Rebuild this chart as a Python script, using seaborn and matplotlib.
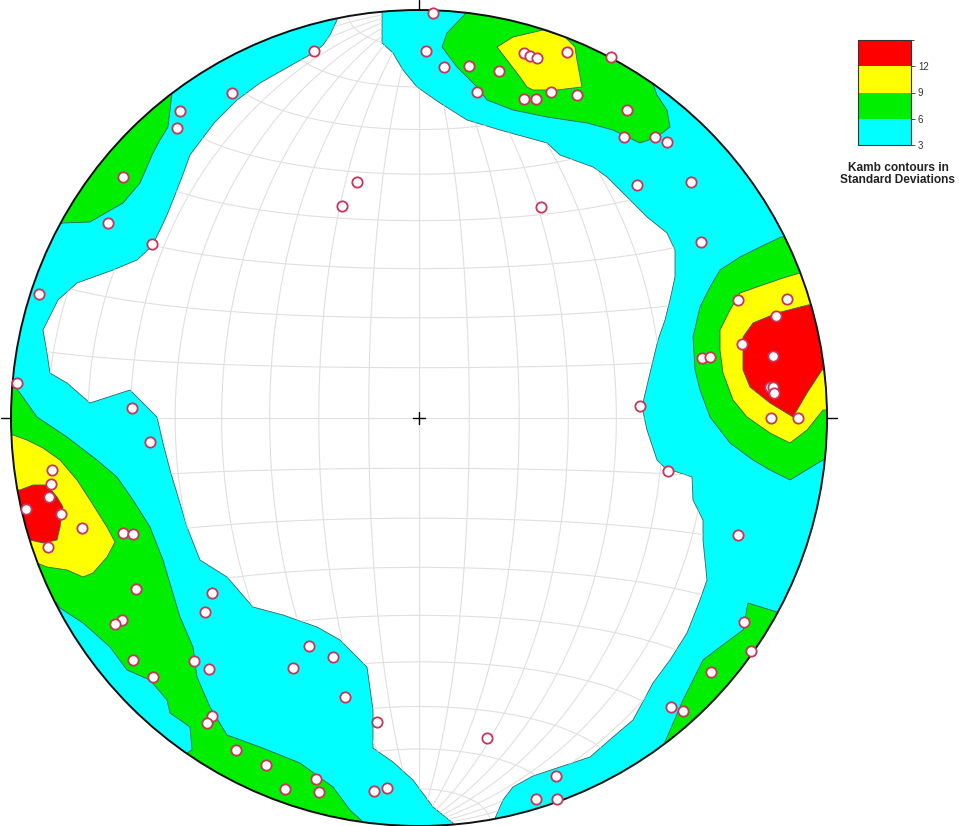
import numpy as np
import matplotlib
matplotlib.use("Agg")
import matplotlib.pyplot as plt
from matplotlib.patches import Circle, Polygon
from matplotlib.colors import ListedColormap, BoundaryNorm
from matplotlib.cm import ScalarMappable
import seaborn as sns

# ---------------------------
# Data (net units: origin at net centre, y up, net radius = 408)
# ---------------------------
pole_x = [14, -105, 7, 25, 50, 58, 80, 105, 111, 118, 148, 192, 132, 105, 117, 158,
          208, 205, 236, 248, 218, 272, 282, -187, -239, -242, -62, -77, 122, -296,
          -311, -267, -380, -402, -287, -269, -367, -368, -370, -393, -358, -337, -371,
          -296, -286, -283, -207, -214, -297, -304, -286, -225, -210, -266, -110, -86,
          -126, -74, -42, -207, -212, -183, -153, -134, -103, -100, -45, -32, 68, 137,
          117, 138, 319, 325, 332, 292, 252, 264, 319, 368, 357, 323, 283, 291, 354,
          351, 354, 355, 352, 379, 221, 249]
pole_y = [405, 367, 367, 351, 352, 326, 347, 365, 362, 360, 366, 361, 326, 319, 319, 323,
          308, 281, 281, 276, 233, 236, 176, 325, 307, 290, 236, 212, 211, 241,
          195, 174, 124, 35, 10, -24, -52, -66, -79, -91, -96, -110, -129,
          -115, -116, -171, -175, -194, -202, -206, -242, -243, -251, -259, -228, -239,
          -250, -279, -304, -298, -305, -332, -347, -371, -361, -374, -373, -370, -320, -358,
          -381, -381, -117, -204, -233, -254, -289, -293, 118, 119, 102, 74, 60, 61, 62,
          31, 31, 25, 0, 0, 12, -53]

levels = [3, 6, 9, 12]
level_colors = ["#00ffff", "#00ee00", "#ffff00", "#ff0000"]

# Kamb contour outlines
below_3 = [(-37, 428), (-37, 406), (-37, 375), (-26, 365), (-16, 348), (-2, 331), (21, 315),
           (48, 298), (81, 288), (128, 275), (141, 263), (174, 251), (188, 241), (208, 221),
           (228, 201), (248, 185), (256, 168), (256, 141), (251, 118), (246, 98), (239, 78),
           (231, 45), (223, 11), (228, -12), (238, -42), (246, -50), (273, -59), (274, -82),
           (284, -102), (284, -122), (288, -162), (281, -182), (268, -215), (251, -242),
           (234, -265), (214, -302), (194, -319), (171, -339), (141, -349), (114, -358),
           (94, -369), (84, -382), (74, -405), (74, -422), (34, -422), (34, -405), (14, -389),
           (-6, -362), (-26, -344), (-46, -330), (-46, -292), (-52, -249), (-79, -222),
           (-102, -209), (-136, -197), (-166, -189), (-192, -159), (-219, -142), (-232, -109),
           (-249, -52), (-256, -25), (-262, 1), (-289, 28), (-329, 15), (-352, 35), (-369, 45),
           (-372, 65), (-376, 88), (-361, 118), (-342, 135), (-306, 148), (-282, 158),
           (-267, 172), (-259, 188), (-252, 203), (-244, 223), (-237, 241), (-229, 263),
           (-214, 283), (-204, 296), (-182, 318), (-159, 335), (-122, 356), (-104, 366),
           (-96, 373), (-89, 383), (-82, 398), (-82, 428)]

green_nw = [(-247, 325), (-251, 291), (-259, 278), (-266, 265), (-279, 235), (-296, 215),
            (-329, 196), (-356, 195), (-379, 188), (-269, 358), (-239, 348)]
green_n = [(48, 406), (28, 385), (23, 371), (38, 351), (58, 331), (68, 318), (94, 308),
           (128, 301), (168, 295), (194, 288), (221, 275), (238, 281), (251, 291), (248, 308),
           (238, 323), (234, 334), (281, 368), (51, 438)]
green_e = [(362, 181), (341, 171), (321, 161), (301, 148), (291, 131), (281, 111), (274, 81),
           (276, 48), (281, 28), (291, 1), (311, -25), (334, -42), (351, -52), (371, -62),
           (404, -42), (441, -42), (441, 188)]
green_w = [(-414, 38), (-404, 31), (-399, 25), (-382, 1), (-352, -19), (-322, -42), (-302, -59),
           (-286, -82), (-269, -109), (-256, -142), (-239, -199), (-226, -229), (-222, -259),
           (-209, -289), (-192, -317), (-159, -329), (-119, -345), (-86, -369), (-69, -392),
           (-56, -404), (-49, -427), (-139, -432), (-232, -335), (-227, -332), (-229, -309),
           (-249, -295), (-252, -282), (-269, -262), (-292, -252), (-309, -229), (-336, -205),
           (-359, -190), (-362, -185), (-419, -142), (-419, 38)]
green_se = [(329, -185), (358, -194), (381, -182), (281, -362), (246, -324), (264, -282),
            (274, -262), (284, -242), (301, -229), (324, -212)]
yellow_n = [(78, 371), (94, 381), (124, 388), (146, 381), (156, 371), (158, 358), (163, 331),
            (138, 328), (114, 328), (108, 331), (101, 341), (88, 358)]
yellow_e = [(381, 145), (364, 140), (338, 131), (321, 125), (311, 108), (301, 88), (301, 68),
            (304, 45), (314, 18), (328, 1), (351, -15), (371, -25), (388, -12), (404, 8),
            (441, 8), (441, 145)]
yellow_w = [(-419, -12), (-406, -17), (-392, -22), (-376, -30), (-359, -42), (-342, -62),
            (-329, -82), (-312, -109), (-304, -124), (-312, -139), (-326, -155), (-336, -159),
            (-352, -152), (-372, -149), (-382, -145), (-419, -152)]
red_e = [(389, 113), (358, 105), (334, 95), (324, 81), (324, 48), (331, 31), (351, 15),
         (374, 1), (388, 25), (403, 48), (441, 48), (441, 118)]
red_w = [(-419, -72), (-399, -72), (-386, -67), (-372, -67), (-362, -79), (-356, -89),
         (-359, -109), (-362, -122), (-376, -125), (-389, -122), (-419, -127)]

# ---------------------------
# Figure
# ---------------------------
sns.set_style("white")
plt.rcParams["font.family"] = ["Liberation Sans", "DejaVu Sans"]

R = 408
fig = plt.figure(figsize=(9.59, 8.26), dpi=100)
ax = fig.add_axes([0, 0, 1, 1])
ax.set_xlim(-419, 540)
ax.set_ylim(-408, 418)
ax.set_aspect("equal")
ax.axis("off")

edge = "#3c6060"
net = Circle((0, 0), R, facecolor=level_colors[0], edgecolor="none", zorder=1)
ax.add_patch(net)

hole = Polygon(below_3, closed=True, facecolor="white", edgecolor=edge, lw=0.6, zorder=2)
ax.add_patch(hole)
hole.set_clip_path(net)

# ---------------------------
# Equal-area (Schmidt) grid, only visible below 3 sigma
# ---------------------------
t = np.radians(np.linspace(-90, 90, 181))


def schmidt(lon, lat):
    k = np.sqrt(2 / (1 + np.cos(lat) * np.cos(lon)))
    return R / np.sqrt(2) * k * np.cos(lat) * np.sin(lon), R / np.sqrt(2) * k * np.sin(lat)


for d in range(-80, 90, 10):
    a = np.radians(d)
    for gx, gy in (schmidt(a, t), schmidt(t, a)):
        line, = ax.plot(gx, gy, color="#e0e0e0", lw=0.8, zorder=3)
        line.set_clip_path(hole)

# ---------------------------
# Contour fills
# ---------------------------
fills = [(green_nw, 1), (green_n, 1), (green_e, 1), (green_w, 1), (green_se, 1),
         (yellow_n, 2), (yellow_e, 2), (yellow_w, 2), (red_e, 3), (red_w, 3)]
for poly, lev in fills:
    p = Polygon(poly, closed=True, facecolor=level_colors[lev], edgecolor=edge,
                lw=0.6, zorder=3 + lev)
    ax.add_patch(p)
    p.set_clip_path(net)

ax.add_patch(Circle((0, 0), R, fill=False, edgecolor="#111111", lw=1.4, zorder=7))

# poles
sns.scatterplot(x=pole_x, y=pole_y, ax=ax, s=55, color="white", edgecolor="#c8345a",
                linewidth=1.3, zorder=8, legend=False)

# centre cross and primitive ticks
ax.plot([-6, 6], [0, 0], color="black", lw=1, zorder=9)
ax.plot([0, 0], [-6, 6], color="black", lw=1, zorder=9)
for dx, dy in [(0, 1), (0, -1), (1, 0), (-1, 0)]:
    ax.plot([dx * R, dx * (R + 10)], [dy * R, dy * (R + 10)], color="black", lw=1,
            zorder=9, clip_on=False)

# ---------------------------
# Legend
# ---------------------------
cax = fig.add_axes([858 / 959, (826 - 145) / 826, 53 / 959, 105 / 826])
cmap = ListedColormap(level_colors)
norm = BoundaryNorm(levels + [15], cmap.N)
cb = fig.colorbar(ScalarMappable(norm=norm, cmap=cmap), cax=cax, ticks=levels)
cb.outline.set_linewidth(0.8)
cb.outline.set_edgecolor("#333333")
cax.tick_params(labelsize=7, length=3, width=0.6, colors="#333333", pad=2)

fig.text(898 / 959, (826 - 174) / 826, "Kamb contours in\nStandard Deviations",
         ha="center", va="center", fontsize=8.6, fontweight="bold", linespacing=1.1,
         color="#222222")

fig.savefig("out.png", dpi=100)
